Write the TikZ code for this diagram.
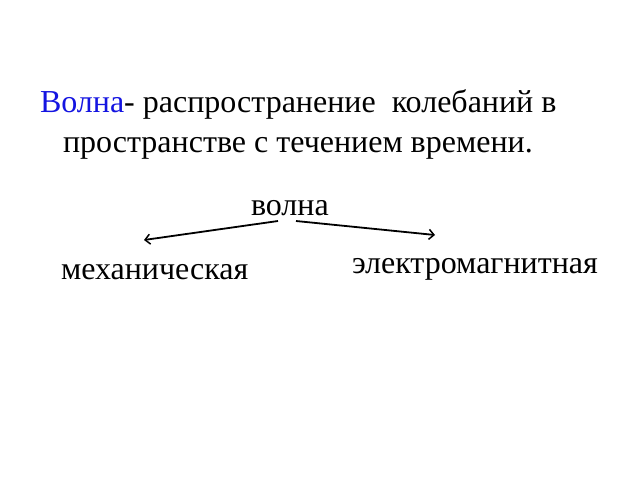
\documentclass[tikz,border=0pt]{standalone}
\usepackage{fontspec}
\setmainfont{Liberation Serif}
\usetikzlibrary{arrows.meta}
\definecolor{wblue}{RGB}{20,20,225}
\tikzset{
  txt/.style={inner sep=0pt, outer sep=0pt, font=\fontsize{32}{38}\selectfont},
  arr/.style={line width=1.8pt, -{Straight Barb[length=5pt,width=10pt,line width=1.5pt]}}
}
\begin{document}
\begin{tikzpicture}[x=1pt,y=1pt]
\useasboundingbox[fill=white] (0,0) rectangle (640,-480);
\node[txt, anchor=base west] (l1) at (40,-112) {\textcolor{wblue}{Волна}- распространение\ \ колебаний в};
\node[txt, anchor=base west] (l2) at (63,-152) {пространстве с течением времени.};
\node[txt, anchor=base west] (w) at (251,-215) {волна};
\node[txt, anchor=base west] (m) at (61,-279) {механическая};
\node[txt, anchor=base west] (e) at (352,-273) {электромагнитная};
\coordinate (ls) at (278,-221);
\coordinate (le) at (144,-240);
\coordinate (rs) at (296,-221);
\coordinate (re) at (435,-235);
\draw[arr] (ls) -- (le);
\draw[arr] (rs) -- (re);
\end{tikzpicture}
\end{document}
